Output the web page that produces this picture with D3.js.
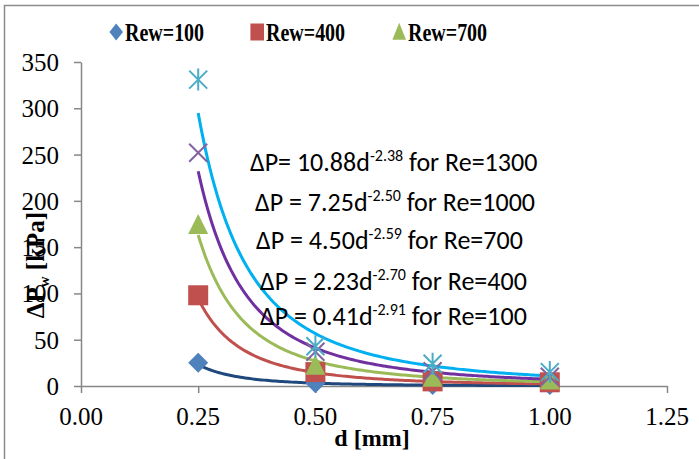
<!DOCTYPE html>
<html>
<head>
<meta charset="utf-8">
<script src="https://cdn.jsdelivr.net/npm/d3@7"></script>
<style>
  body { margin: 0; background: #fff; }
  svg { display: block; }
</style>
</head>
<body>
<div id="chart"></div>
<script>
'use strict'

// data
const diameters = [0.25, 0.50, 0.75, 1.00];
const rew100 = [25, 3, 1, 1];
const rew400 = [98, 15, 5, 4];
const rew700 = [174, 22, 9, 6];
const rew1000 = [252, 37, 16, 10];
const rew1300 = [331, 43, 24, 15];

// power-law fits shown on the chart: dP = a * d^-b
const fitRe = [1300, 1000, 700, 400, 100];
const fitA = ["10.88", "7.25", "4.50", "2.23", "0.41"];
const fitB = ["2.38", "2.50", "2.59", "2.70", "2.91"];

const xTicks = [0, 0.25, 0.5, 0.75, 1.0, 1.25];
const yTicks = [0, 50, 100, 150, 200, 250, 300, 350];

const series = [
  { name: "Rew=100", values: rew100, marker: "diamond", color: "#4f81bd", legend: true },
  { name: "Rew=400", values: rew400, marker: "square", color: "#c0504d", legend: true },
  { name: "Rew=700", values: rew700, marker: "triangle", color: "#9bbb59", legend: true },
  { name: "Rew=1000", values: rew1000, marker: "cross", color: "#8064a2", legend: false },
  { name: "Rew=1300", values: rew1300, marker: "star", color: "#4bacc6", legend: false }
];

// trendline colours, same order as fitRe
const fitColor = ["#00b0f0", "#7030a0", "#9bbb59", "#c0504d", "#1f497d"];

const width = 699, height = 459;
const margin = { left: 81, right: 32, top: 62, bottom: 73 };
const serif = 'Liberation Serif';

const svg = d3.select('#chart').append('svg')
  .attr('width', width)
  .attr('height', height);

// outer frame
svg.append('rect')
  .attr('x', 4.5).attr('y', 5.5)
  .attr('width', width + 10).attr('height', height + 10)
  .attr('fill', 'none')
  .attr('stroke', '#8c8c8c')
  .attr('stroke-width', 1.5);

const x = d3.scaleLinear().domain([0, 1.25]).range([margin.left, width - margin.right]);
const y = d3.scaleLinear().domain([0, 350]).range([height - margin.bottom, margin.top]);

const axisColor = '#878787';

// axis lines and ticks (labels drawn separately)
const xAxis = svg.append('g')
  .attr('transform', `translate(0,${y(0)})`)
  .call(d3.axisBottom(x).tickValues(xTicks).tickFormat('').tickSizeOuter(0).tickSizeInner(7));
xAxis.select('.domain').attr('stroke', axisColor).attr('stroke-width', 1.5);
xAxis.selectAll('.tick line').attr('stroke', axisColor).attr('stroke-width', 1.5);

const yAxis = svg.append('g')
  .attr('transform', `translate(${x(0)},0)`)
  .call(d3.axisLeft(y).tickValues(yTicks).tickFormat('').tickSizeOuter(0).tickSizeInner(7));
yAxis.select('.domain').attr('stroke', axisColor).attr('stroke-width', 1.5);
yAxis.selectAll('.tick line').attr('stroke', axisColor).attr('stroke-width', 1.5);

// tick labels
const fmtX = d3.format('.2f');
svg.append('g')
  .selectAll('text')
  .data(xTicks)
  .join('text')
  .attr('x', d => x(d))
  .attr('y', y(0) + 39)
  .attr('text-anchor', 'middle')
  .attr('font-family', serif)
  .attr('font-size', 25)
  .attr('fill', '#000')
  .text(d => fmtX(d));

svg.append('g')
  .selectAll('text')
  .data(yTicks)
  .join('text')
  .attr('x', x(0) - 22)
  .attr('y', d => y(d) + 9)
  .attr('text-anchor', 'end')
  .attr('font-family', serif)
  .attr('font-size', 25)
  .attr('fill', '#000')
  .text(d => d);

// axis titles
svg.append('text')
  .attr('x', 372).attr('y', 446)
  .attr('text-anchor', 'middle')
  .attr('font-family', serif)
  .attr('font-weight', 'bold')
  .attr('font-size', 24)
  .text('d [mm]');

const yTitle = svg.append('text')
  .attr('transform', 'translate(44,265) rotate(-90)')
  .attr('text-anchor', 'middle')
  .attr('font-family', serif)
  .attr('font-weight', 'bold')
  .attr('font-size', 25);
yTitle.append('tspan').text('ΔP');
yTitle.append('tspan').attr('font-size', 15).attr('dy', 5).text('w');
yTitle.append('tspan').attr('dy', -5).text(' [kPa]');

// trendlines
const line = d3.line().x(d => x(d[0])).y(d => y(d[1]));
const dGrid = d3.range(0.25, 1.0001, 0.005);

svg.append('g')
  .selectAll('path')
  .data(fitRe.map((re, i) => ({ a: +fitA[i], b: +fitB[i], color: fitColor[i] })).reverse())
  .join('path')
  .attr('d', f => line(dGrid.map(d => [d, f.a * Math.pow(d, -f.b)])))
  .attr('fill', 'none')
  .attr('stroke', f => f.color)
  .attr('stroke-width', 3);

// markers
function drawMarker(g, type, color) {
  if (type === 'diamond') {
    g.append('path').attr('d', 'M0,-10L10,0L0,10L-10,0Z').attr('fill', color);
  } else if (type === 'square') {
    g.append('rect').attr('x', -10).attr('y', -10).attr('width', 20).attr('height', 20).attr('fill', color);
  } else if (type === 'triangle') {
    g.append('path').attr('d', 'M0,-11L10,9L-10,9Z').attr('fill', color);
  } else if (type === 'cross') {
    g.append('path').attr('d', 'M-9,-9L9,9M-9,9L9,-9').attr('stroke', color).attr('stroke-width', 2);
  } else if (type === 'star') {
    g.append('path').attr('d', 'M-9,-9L9,9M-9,9L9,-9M0,-11L0,11').attr('stroke', color).attr('stroke-width', 2);
  }
}

series.forEach(s => {
  const grp = svg.append('g');
  s.values.forEach((v, i) => {
    const m = grp.append('g').attr('transform', `translate(${x(diameters[i])},${y(v)})`);
    drawMarker(m, s.marker, s.color);
  });
});

// equations
const eqY = [171, 211, 249, 290, 325];
const eqX = [250, 255, 256, 260, 260];
fitRe.forEach((re, i) => {
  const t = svg.append('text')
    .attr('x', eqX[i]).attr('y', eqY[i])
    .attr('font-family', 'Carlito')
    .attr('font-size', 26)
    .attr('fill', '#000');
  t.append('tspan').text('ΔP' + (i === 0 ? '= ' : ' = ') + fitA[i] + 'd');
  t.append('tspan').attr('font-size', 16).attr('dy', -10).text('-' + fitB[i]);
  t.append('tspan').attr('dy', 10).text(' for Re=' + re);
});

// legend (squeezed horizontally like the original)
const legendX = [109, 250, 392];
series.filter(s => s.legend).forEach((s, i) => {
  const item = svg.append('g').attr('transform', `translate(${legendX[i]},32) scale(0.8,1)`);
  const m = item.append('g').attr('transform', 'translate(9,0) scale(0.85)');
  drawMarker(m, s.marker, s.color);
  item.append('text')
    .attr('x', 20).attr('y', 9)
    .attr('font-family', serif)
    .attr('font-weight', 'bold')
    .attr('font-size', 25)
    .text(s.name);
});
</script>
</body>
</html>
